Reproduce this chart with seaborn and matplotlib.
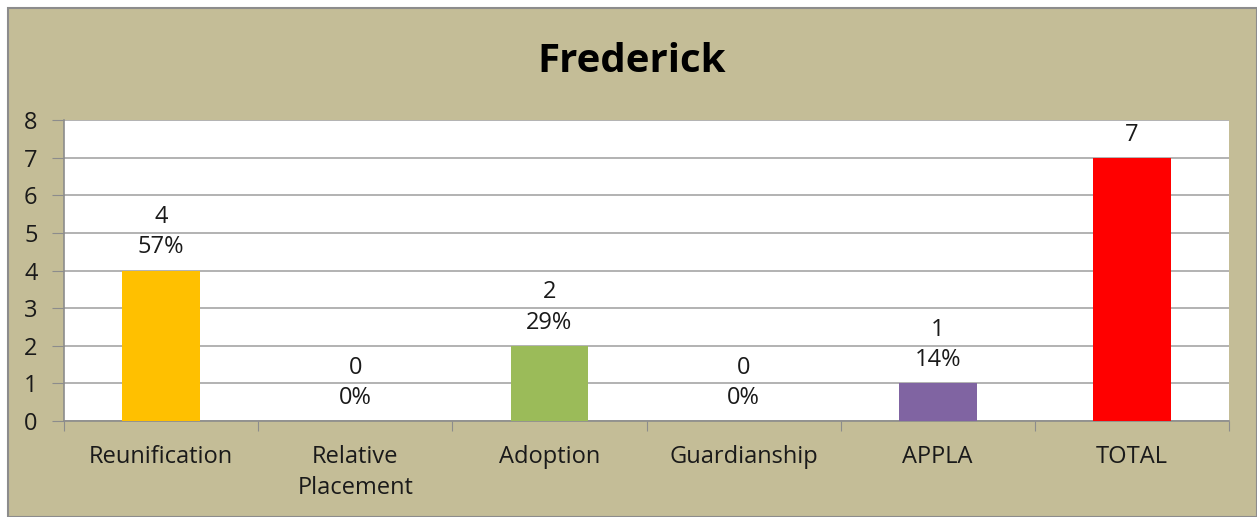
import matplotlib
matplotlib.use("Agg")
import matplotlib.pyplot as plt
from matplotlib.patches import Rectangle
import seaborn as sns
import pandas as pd

# data
categories = ["Reunification", "Relative\nPlacement", "Adoption", "Guardianship", "APPLA", "TOTAL"]
counts = [4, 0, 2, 0, 1, 7]
percents = ["57%", "0%", "29%", "0%", "14%", ""]
bar_colors = ["#FFC000", "#FFC000", "#9BBB59", "#9BBB59", "#8064A2", "#FF0000"]
y_ticks = [0, 1, 2, 3, 4, 5, 6, 7, 8]

sns.set_style("white")
plt.rcParams["font.family"] = ["Open Sans", "DejaVu Sans"]

df = pd.DataFrame({"category": categories, "count": counts})

fig = plt.figure(figsize=(12.57, 5.17), dpi=100, facecolor="white")
# tan chart frame
frame = Rectangle((8 / 1257, 0), 1 - 8.5 / 1257, 1 - 8 / 517,
                  transform=fig.transFigure, facecolor="#C4BD97",
                  edgecolor="#8C8C8C", linewidth=1.5, zorder=-10)
fig.patches.append(frame)

ax = fig.add_axes([64 / 1257, 1 - 421 / 517, (1229 - 64) / 1257, (421 - 120) / 517])
ax.set_zorder(1)
ax.set_facecolor("white")

sns.barplot(data=df, x="category", y="count", hue="category", palette=bar_colors,
            legend=False, width=0.4, saturation=1, linewidth=0, ax=ax, zorder=3)

ax.set_ylim(0, 8)
ax.set_yticks(y_ticks)
ax.set_xlim(-0.5, len(categories) - 0.5)
ax.yaxis.grid(True, color="#A6A6A6", linewidth=1.2, zorder=0)
ax.set_axisbelow(True)

for side in ["top", "right"]:
    ax.spines[side].set_visible(False)
for side in ["left", "bottom"]:
    ax.spines[side].set_color("#8C8C8C")
    ax.spines[side].set_linewidth(1.2)

# x ticks at category boundaries, labels at centers
ax.set_xticks([i - 0.5 for i in range(len(categories) + 1)], minor=False)
ax.set_xticklabels([])
ax.set_xticks(range(len(categories)), minor=True)
ax.set_xticklabels(categories, minor=True, fontsize=17, color="#1A1A1A", linespacing=1.4)
ax.tick_params(axis="x", which="major", direction="out", length=7, color="#8C8C8C", bottom=True)
ax.tick_params(axis="x", which="minor", length=0, pad=17)
ax.tick_params(axis="y", direction="out", length=9, color="#8C8C8C", left=True,
               labelsize=17, labelcolor="#1A1A1A", pad=10)
ax.set_xlabel("")
ax.set_ylabel("")

# value labels
for i, (c, p) in enumerate(zip(counts, percents)):
    txt = f"{c}\n{p}" if p else f"{c}"
    ax.annotate(txt, (i, c), xytext=(0, 8), textcoords="offset points",
                ha="center", va="bottom", fontsize=17, color="#1A1A1A",
                linespacing=1.35)

fig.text(632 / 1257, 1 - 62 / 517, "Frederick", ha="center", va="center",
         fontsize=29, fontweight="bold", color="black")

fig.savefig("out.png", dpi=100, facecolor=fig.get_facecolor())
